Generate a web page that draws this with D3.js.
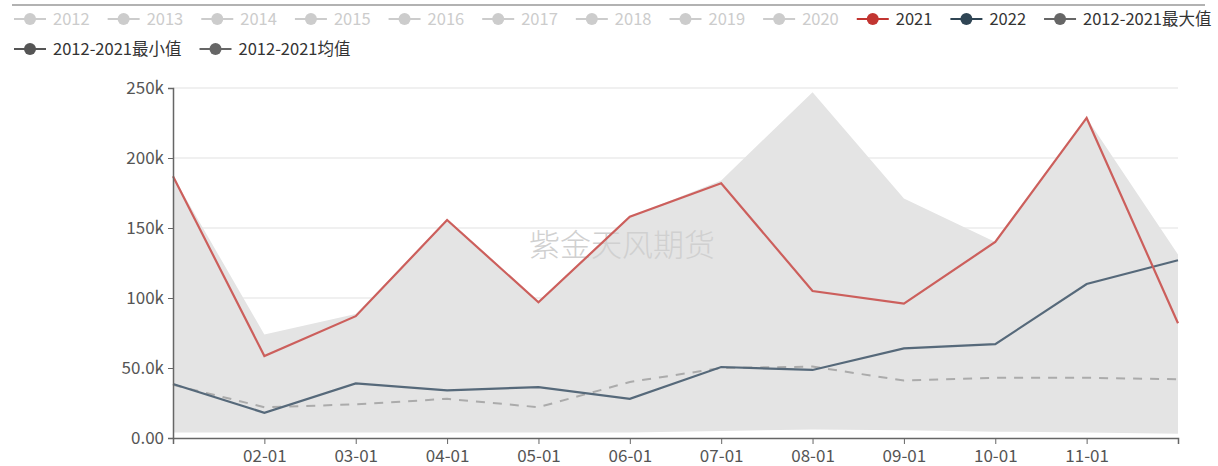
<!DOCTYPE html>
<html>
<head>
<meta charset="utf-8">
<script src="https://cdn.jsdelivr.net/npm/d3@7"></script>
<style>
  body { margin: 0; background: #fff; }
  svg { font-family: "Noto Sans CJK SC", "Open Sans", sans-serif; }
</style>
</head>
<body>
<svg id="chart"></svg>
<script>
var margin = {top: 88, right: 40, bottom: 28, left: 173},
    W = 1218, H = 466,
    width = W - margin.left - margin.right,
    height = H - margin.top - margin.bottom;

// data (12 months)
var months = ["01-01","02-01","03-01","04-01","05-01","06-01","07-01","08-01","09-01","10-01","11-01","12-01"]
var tickMonths = ["02-01","03-01","04-01","05-01","06-01","07-01","08-01","09-01","10-01","11-01"]
var v2021 = [187000, 58600, 87000, 155700, 97000, 158000, 182000, 105000, 96000, 140000, 228600, 82000]
var v2022 = [38600, 18000, 39000, 34000, 36400, 28000, 50700, 48600, 64000, 67000, 110000, 127000]
var vMax = [187000, 74000, 88600, 155700, 97000, 158000, 184000, 247000, 171000, 140000, 228600, 131000]
var vMin = [4000, 4000, 4000, 4000, 4000, 4000, 5000, 6000, 5500, 4500, 4000, 3000]
var vMean = [38000, 22000, 24000, 28000, 22000, 40000, 50000, 51000, 41000, 43000, 43000, 42000]
var yTicks = [0, 50000, 100000, 150000, 200000, 250000]
var yLabels = ["0.00", "50.0k", "100k", "150k", "200k", "250k"]
var legendRow1 = ["2012","2013","2014","2015","2016","2017","2018","2019","2020","2021","2022","2012-2021最大值"]
var legendRow2 = ["2012-2021最小值","2012-2021均值"]
var legendColors = {"2021": "#c23531", "2022": "#2f4554", "2012-2021最大值": "#666", "2012-2021最小值": "#555", "2012-2021均值": "#666"}

var svg = d3.select("#chart").attr("width", W).attr("height", H)

var x = d3.scalePoint().domain(months).range([0, width])
var y = d3.scaleLinear().domain([0, 250000]).range([height, 0])

var g = svg.append("g").attr("transform", "translate(" + margin.left + "," + margin.top + ")")

// grid
g.selectAll(".grid").data(yTicks.slice(1)).enter().append("line")
  .attr("x1", 0).attr("x2", width)
  .attr("y1", function(d){ return y(d) }).attr("y2", function(d){ return y(d) })
  .attr("stroke", "#ebebeb").attr("stroke-width", 1.5)

// band between min and max
var band = d3.area()
  .x(function(d, i){ return x(months[i]) })
  .y0(function(d, i){ return y(vMin[i]) })
  .y1(function(d){ return y(d) })
g.append("path").datum(vMax).attr("d", band).attr("fill", "#e4e4e4")

// watermark
g.append("text").attr("x", 449).attr("y", 168)
  .attr("text-anchor", "middle").attr("font-size", "31px").attr("font-weight", 300)
  .attr("fill", "#d0d0d0")
  .text("紫金天风期货")

var line = d3.line().x(function(d, i){ return x(months[i]) }).y(function(d){ return y(d) })

g.append("path").datum(vMean).attr("d", line).attr("fill", "none")
  .attr("stroke", "#ababab").attr("stroke-width", 2).attr("stroke-dasharray", "9,8")
g.append("path").datum(v2022).attr("d", line).attr("fill", "none")
  .attr("stroke", "#56697a").attr("stroke-width", 2.2)
g.append("path").datum(v2021).attr("d", line).attr("fill", "none")
  .attr("stroke", "#cc5f5c").attr("stroke-width", 2.2)

// axes
var yAxis = d3.axisLeft(y).tickValues(yTicks).tickSize(5).tickPadding(4)
  .tickFormat(function(d, i){ return yLabels[i] })
var ya = g.append("g").call(yAxis)
var xAxis = d3.axisBottom(x).tickValues(tickMonths).tickSize(6).tickPadding(6)
var xa = g.append("g").attr("transform", "translate(0," + height + ")").call(xAxis)
;[ya, xa].forEach(function(a){
  a.select(".domain").attr("stroke", "#666").attr("stroke-width", 1.5)
  a.selectAll(".tick line").attr("stroke", "#666")
  a.selectAll("text").attr("fill", "#555").attr("font-size", "17px")
    .attr("font-family", "\"Noto Sans CJK SC\", sans-serif")
})

// top rule
svg.append("line").attr("x1", 12).attr("x2", 1205).attr("y1", 5).attr("y2", 5)
  .attr("stroke", "#999").attr("stroke-width", 1.5)

// legend
function legendRow(items, yy) {
  var cx = 14
  items.forEach(function(name){
    var c = legendColors[name] || "#ccc"
    var tc = legendColors[name] ? "#333" : "#ccc"
    var it = svg.append("g").attr("transform", "translate(" + cx + "," + yy + ")")
    it.append("line").attr("x1", 0).attr("x2", 32).attr("stroke", c).attr("stroke-width", 2)
    it.append("circle").attr("cx", 16).attr("r", 6).attr("fill", c)
    var t = it.append("text").attr("x", 39).attr("dy", "0.35em")
      .attr("font-size", "16.5px").attr("fill", tc).text(name)
    cx += 39 + t.node().getComputedTextLength() + 18
  })
}
legendRow(legendRow1, 19)
legendRow(legendRow2, 49)
</script>
</body>
</html>
